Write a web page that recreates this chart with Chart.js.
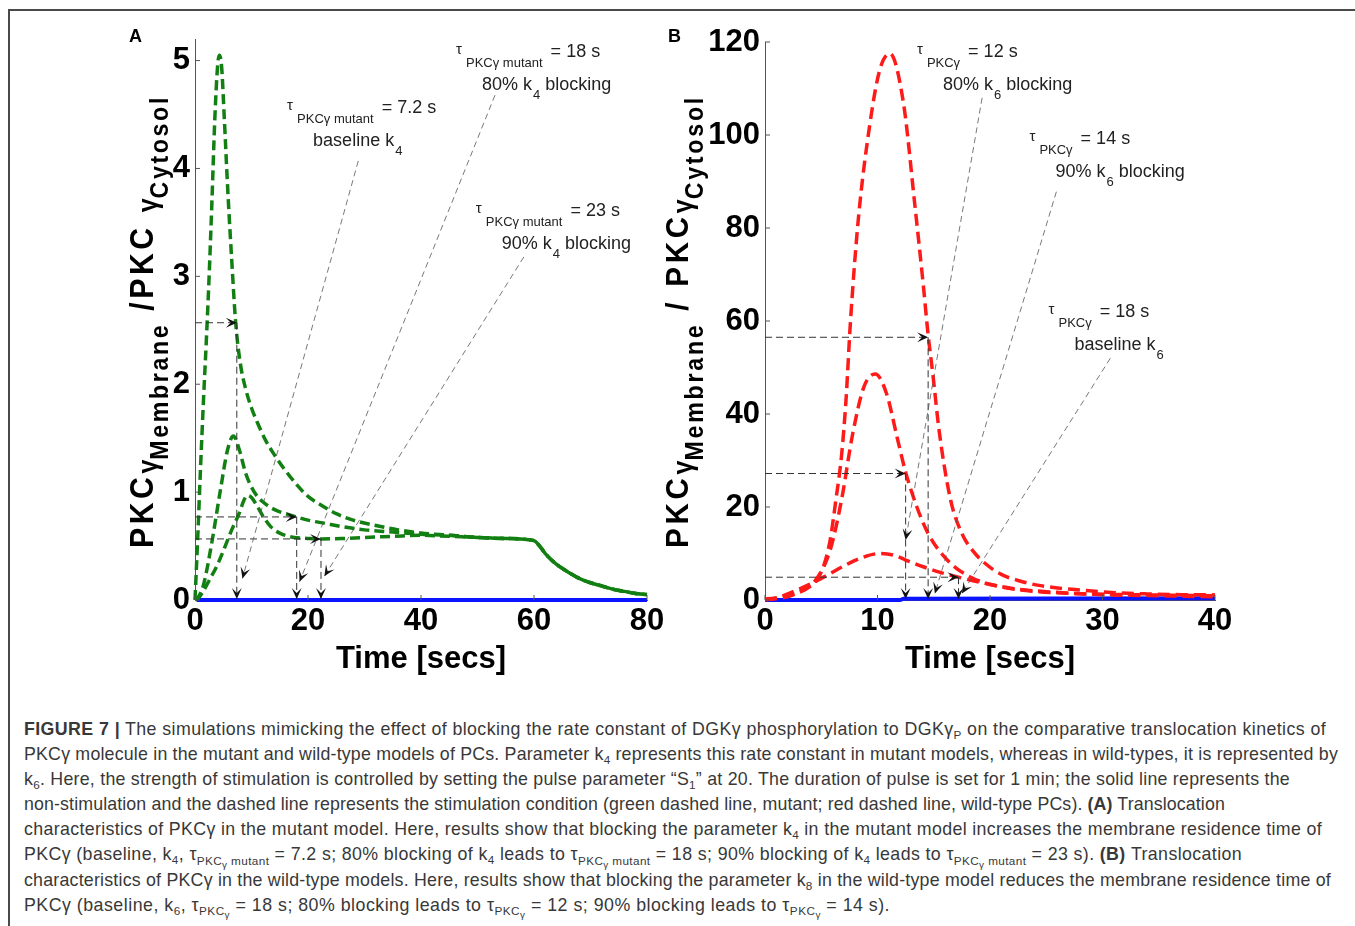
<!DOCTYPE html>
<html>
<head>
<meta charset="utf-8">
<script src="https://cdn.jsdelivr.net/npm/chart.js@4.4.9/dist/chart.umd.min.js"></script>
<style>
body { margin: 0; background: #fff; width: 1355px; height: 926px; overflow: hidden; position: relative; font-family: "Liberation Sans", Arial, sans-serif; }
#frame { position: absolute; left: 8px; top: 9px; width: 1400px; height: 1000px; border-top: 2px solid #4a4a4a; border-left: 2px solid #4a4a4a; }
canvas { position: absolute; top: 0; }
#chartA { left: 0; }
#chartB { left: 650px; }
.panel { position: absolute; font-weight: bold; font-size: 18px; color: #000; }
#caption { position: absolute; left: 24px; top: 717px; font-size: 17.8px; line-height: 25.1px; color: #383838; }
#caption div { white-space: nowrap; }
sub { font-size: 66%; vertical-align: -0.35em; line-height: 0; }
sub sub { font-size: 85%; }
</style>
</head>
<body>
<div id="frame"></div>
<canvas id="chartA" width="680" height="700"></canvas>
<canvas id="chartB" width="705" height="700"></canvas>
<div class="panel" style="left:129px;top:26px">A</div>
<div class="panel" style="left:668px;top:26px">B</div>
<div id="caption">
<div data-end="1326"><b>FIGURE 7 |</b> The simulations mimicking the effect of blocking the rate constant of DGKγ phosphorylation to DGKγ<sub>P</sub> on the comparative translocation kinetics of</div>
<div data-end="1338">PKCγ molecule in the mutant and wild-type models of PCs. Parameter k<sub>4</sub> represents this rate constant in mutant models, whereas in wild-types, it is represented by</div>
<div data-end="1290">k<sub>6</sub>. Here, the strength of stimulation is controlled by setting the pulse parameter “S<sub>1</sub>” at 20. The duration of pulse is set for 1 min; the solid line represents the</div>
<div data-end="1225">non-stimulation and the dashed line represents the stimulation condition (green dashed line, mutant; red dashed line, wild-type PCs). <b>(A)</b> Translocation</div>
<div data-end="1322">characteristics of PKCγ in the mutant model. Here, results show that blocking the parameter k<sub>4</sub> in the mutant model increases the membrane residence time of</div>
<div data-end="1242">PKCγ (baseline, k<sub>4</sub>, τ<sub>PKC<sub>γ</sub> mutant</sub> = 7.2 s; 80% blocking of k<sub>4</sub> leads to τ<sub>PKC<sub>γ</sub> mutant</sub> = 18 s; 90% blocking of k<sub>4</sub> leads to τ<sub>PKC<sub>γ</sub> mutant</sub> = 23 s). <b>(B)</b> Translocation</div>
<div data-end="1331">characteristics of PKCγ in the wild-type models. Here, results show that blocking the parameter k<sub>8</sub> in the wild-type model reduces the membrane residence time of</div>
<div data-end="890">PKCγ (baseline, k<sub>6</sub>, τ<sub>PKC<sub>γ</sub></sub> = 18 s; 80% blocking leads to τ<sub>PKC<sub>γ</sub></sub> = 12 s; 90% blocking leads to τ<sub>PKC<sub>γ</sub></sub> = 14 s).</div>
</div>
<script>
// ---- panel A (mutant), green dashed ----
const xTicksA = [0, 20, 40, 60, 80];
const yTicksA = [0, 1, 2, 3, 4, 5];

const tailT = [61, 62, 64, 66, 68, 70, 72, 74, 76, 78, 80];
const tailV = [0.5, 0.43, 0.33, 0.26, 0.2, 0.16, 0.13, 0.1, 0.08, 0.06, 0.05];

const tA1 = [0, 0.5, 1, 1.5, 2, 2.5, 3, 3.5, 4, 4.3, 4.7, 5.2, 5.8, 6.5, 7.2, 8, 9, 10, 11, 12.5, 14, 16, 18, 20, 22, 25, 28, 32, 36, 40, 45, 50, 55, 60];
const vA1 = [0, 0.6, 1.25, 1.85, 2.4, 3.0, 3.7, 4.45, 4.95, 5.05, 4.95, 4.45, 3.8, 3.15, 2.57, 2.2, 1.95, 1.78, 1.65, 1.48, 1.35, 1.2, 1.07, 0.96, 0.89, 0.8, 0.74, 0.69, 0.65, 0.62, 0.6, 0.58, 0.57, 0.55];

const tA2 = [0, 0.5, 1.5, 3, 4.5, 5.8, 6.8, 7.8, 9, 10.5, 12, 14, 16, 18, 20, 23, 26, 30, 35, 40, 45, 50, 55, 60];
const vA2 = [0, 0.02, 0.14, 0.54, 1.02, 1.4, 1.52, 1.4, 1.17, 1.0, 0.91, 0.84, 0.8, 0.77, 0.74, 0.71, 0.68, 0.65, 0.63, 0.61, 0.6, 0.58, 0.57, 0.55];

const tA3 = [0, 0.8, 2.7, 4, 5.2, 6.5, 7.8, 8.7, 9.3, 10, 10.9, 12, 13.4, 15, 16.6, 18.5, 20.4, 22.5, 26, 30, 35, 40, 45, 50, 55, 60];
const vA3 = [0, 0.03, 0.2, 0.33, 0.48, 0.65, 0.8, 0.93, 0.97, 0.95, 0.88, 0.78, 0.68, 0.62, 0.59, 0.575, 0.57, 0.566, 0.57, 0.58, 0.59, 0.6, 0.59, 0.58, 0.57, 0.55];

const tABlue = [0.3, 80];
const vABlue = [0, 0];

// residence-time markers (tau, level) and label texts, panel A
const tauA = [7.4, 18, 22.3];
const levelA = [2.57, 0.77, 0.566];
const labelSubA = ['PKCγ mutant', 'PKCγ mutant', 'PKCγ mutant'];
const labelValA = ['= 7.2 s', '= 18 s', '= 23 s'];
const labelLine2A = [['baseline k', '4', ''], ['80% k', '4', ' blocking'], ['90% k', '4', ' blocking']];

// ---- panel B (wild type), red dashed ----
const xTicksB = [0, 10, 20, 30, 40];
const yTicksB = [0, 20, 40, 60, 80, 100, 120];

const tB1 = [0, 0.8, 2, 3.5, 4.5, 5.2, 5.8, 6.3, 6.8, 7.2, 7.6, 8.3, 9.3, 10.2, 11.1, 12.3, 13.3, 14.1, 14.5, 14.9, 15.5, 16.5, 17.5, 18.5, 19.5, 21, 22.5, 24.2, 26, 28, 30.8, 34, 37, 40];
const vB1 = [0.2, 0.4, 1, 2.2, 4, 7.2, 13, 21.5, 31, 43, 60, 82, 102, 114, 117.5, 107, 85.4, 67, 57, 49, 36, 21.5, 14.3, 10.5, 8, 5.5, 4.2, 3.2, 2.6, 2.15, 1.6, 1.3, 1.15, 1.1];

const tB2 = [0, 0.5, 2.5, 4.5, 5.8, 6.8, 7.8, 8.8, 9.8, 10.8, 11.8, 12.5, 13.5, 14.5, 16.2, 18.2, 20.8, 24.2, 27.5, 30.8, 35, 40];
const vB2 = [0.1, 0.15, 1.1, 4.3, 10.8, 21.5, 35.8, 45.9, 48.6, 44.4, 34.4, 27.5, 20, 14.3, 8.6, 5, 2.9, 1.8, 1.4, 1.1, 0.9, 0.7];

const tB3 = [0, 1, 2.5, 4, 5.5, 7, 8.5, 10.2, 11.5, 12.5, 14, 15.5, 17.2, 19.5, 22.5, 25, 27.5, 31, 34.2, 37, 40];
const vB3 = [0.1, 0.4, 1.8, 3.4, 5.3, 7.3, 9, 10, 9.6, 8.6, 7.2, 6, 4.9, 3.6, 2.3, 1.8, 1.4, 1.2, 1.1, 1.0, 0.9];

const tBBlue = [0, 12, 12.3, 40];
const vBBlue = [0, 0, 0.25, 0.35];

const tauB = [14.5, 12.5, 17.2];
const levelB = [56.5, 27.2, 4.9];
const labelSubB = ['PKCγ', 'PKCγ', 'PKCγ'];
const labelValB = ['= 12 s', '= 14 s', '= 18 s'];
const labelLine2B = [['80% k', '6', ' blocking'], ['90% k', '6', ' blocking'], ['baseline k', '6', '']];

const FONT = '"Liberation Sans", Arial, sans-serif';

const toXY = (ts, vs) => ts.map((t, i) => ({ x: t, y: vs[i] }));

const arrowHead = (ctx, x1, y1, x2, y2, size) => {
    const a = Math.atan2(y2 - y1, x2 - x1);
    ctx.save();
    ctx.translate(x2, y2);
    ctx.rotate(a);
    ctx.setLineDash([]);
    ctx.beginPath();
    ctx.moveTo(0, 0);
    ctx.lineTo(-size, -size * 0.45);
    ctx.lineTo(-size * 0.55, 0);
    ctx.lineTo(-size, size * 0.45);
    ctx.closePath();
    ctx.fill();
    ctx.restore();
};

const dashedLine = (ctx, x1, y1, x2, y2, color, width, dash) => {
    ctx.save();
    ctx.strokeStyle = color;
    ctx.lineWidth = width;
    ctx.setLineDash(dash);
    ctx.beginPath();
    ctx.moveTo(x1, y1);
    ctx.lineTo(x2, y2);
    ctx.stroke();
    ctx.restore();
};

const drawTauLabel = (ctx, x, y, sub, val, line2) => {
    ctx.save();
    ctx.fillStyle = '#222';
    ctx.textBaseline = 'alphabetic';
    ctx.font = '15px ' + FONT;
    ctx.fillText('τ', x, y - 3);
    ctx.font = '13px ' + FONT;
    ctx.fillText(sub, x + 10, y + 10);
    const w = ctx.measureText(sub).width;
    ctx.font = '18px ' + FONT;
    ctx.fillText(val, x + 10 + w + 8, y);
    let cx = x + 26;
    ctx.fillText(line2[0], cx, y + 33);
    cx += ctx.measureText(line2[0]).width + 1;
    ctx.font = '13px ' + FONT;
    ctx.fillText(line2[1], cx, y + 42);
    cx += ctx.measureText(line2[1]).width;
    ctx.font = '18px ' + FONT;
    ctx.fillText(line2[2], cx, y + 33);
    ctx.restore();
};

const drawYTitle = (ctx, cx, yBottom, yTop, segs) => {
    ctx.save();
    ctx.fillStyle = '#000';
    let total = 0;
    segs.forEach(s => {
        ctx.font = 'bold ' + s.size + 'px ' + FONT;
        ctx.letterSpacing = s.ls + 'px';
        s.w = ctx.measureText(s.text).width;
        total += s.w;
    });
    ctx.translate(cx, yBottom);
    ctx.rotate(-Math.PI / 2);
    ctx.scale((yBottom - yTop) / total, 1);
    let x = 0;
    segs.forEach(s => {
        ctx.font = 'bold ' + s.size + 'px ' + FONT;
        ctx.letterSpacing = s.ls + 'px';
        ctx.fillText(s.text, x, s.dy);
        x += s.w;
    });
    ctx.restore();
};

// overlay: inward ticks, reference arrows, leader lines, labels, y title
const makeOverlay = (o) => ({
    id: 'overlay' + o.name,
    afterDatasetsDraw(chart) {
        const ctx = chart.ctx;
        const xs = chart.scales.x, ys = chart.scales.y;
        const X = v => xs.getPixelForValue(v), Y = v => ys.getPixelForValue(v);
        const area = chart.chartArea;

        ctx.save();
        ctx.strokeStyle = '#555';
        ctx.lineWidth = 1;
        ys.ticks.forEach(t => {
            ctx.beginPath(); ctx.moveTo(area.left, Y(t.value)); ctx.lineTo(area.left + 5, Y(t.value)); ctx.stroke();
        });
        xs.ticks.forEach(t => {
            ctx.beginPath(); ctx.moveTo(X(t.value), area.bottom); ctx.lineTo(X(t.value), area.bottom - 5); ctx.stroke();
        });
        ctx.restore();

        ctx.save();
        ctx.fillStyle = '#111';
        o.tau.forEach((tau, i) => {
            const lv = o.level[i];
            dashedLine(ctx, X(0), Y(lv), X(tau), Y(lv), '#333', 1, [7, 4]);
            arrowHead(ctx, X(0), Y(lv), X(tau), Y(lv), 11);
            dashedLine(ctx, X(tau), Y(lv), X(tau), Y(0) - 1, '#333', 1, [7, 4]);
            arrowHead(ctx, X(tau), Y(lv), X(tau), Y(0) - 1, 11);
        });
        o.leaders.forEach(l => {
            dashedLine(ctx, X(l[0]), Y(l[1]), X(l[2]), Y(l[3]), '#555', 0.8, [6, 4]);
            arrowHead(ctx, X(l[0]), Y(l[1]), X(l[2]), Y(l[3]), 11);
        });
        ctx.restore();

        o.labels.forEach((p, i) => drawTauLabel(ctx, X(p[0]), Y(p[1]), o.sub[i], o.val[i], o.line2[i]));
        drawYTitle(ctx, o.titleX, 548, 95, o.title);
    }
});

const lineSet = (ts, vs, color, dash, width) => ({
    data: toXY(ts, vs),
    showLine: true,
    borderColor: color,
    borderWidth: width,
    borderDash: dash,
    pointRadius: 0,
    cubicInterpolationMode: 'monotone',
    clip: false
});

const axisFont = { family: FONT, size: 31, weight: 'bold' };

const makeChart = (id, datasets, xmax, xTicks, ymax, yTicks, pad, yWidth, overlay) => new Chart(document.getElementById(id), {
    type: 'scatter',
    data: { datasets },
    options: {
        responsive: false,
        animation: false,
        devicePixelRatio: 1,
        layout: { padding: pad },
        plugins: { legend: { display: false }, tooltip: { enabled: false } },
        scales: {
            x: {
                type: 'linear', min: 0, max: xmax,
                ticks: { color: '#000', font: axisFont, padding: 3, maxRotation: 0 },
                grid: { display: true, drawOnChartArea: false, drawTicks: false },
                border: { display: true, color: '#555', width: 1 },
                title: { display: true, text: 'Time [secs]', color: '#000', font: { family: FONT, size: 31, weight: 'bold' }, padding: { top: 22, bottom: 22 } },
                afterBuildTicks: s => { s.ticks = xTicks.map(v => ({ value: v })); },
                afterFit: s => { s.height = 100; }
            },
            y: {
                type: 'linear', min: 0, max: ymax,
                ticks: { color: '#000', font: axisFont, padding: 5 },
                grid: { display: true, drawOnChartArea: false, drawTicks: false },
                border: { display: true, color: '#555', width: 1 },
                afterBuildTicks: s => { s.ticks = yTicks.map(v => ({ value: v })); },
                afterFit: s => { s.width = yWidth; }
            }
        }
    },
    plugins: [makeOverlay(overlay)]
});

const green = '#127f12';
const red = '#ff1a1a';
const blue = '#0a14ff';

makeChart('chartA', [
    lineSet(tA1.concat(tailT), vA1.concat(tailV), green, [10, 5], 3.5),
    lineSet(tA2.concat(tailT), vA2.concat(tailV), green, [10, 5], 3.5),
    lineSet(tA3.concat(tailT), vA3.concat(tailV), green, [10, 5], 3.5),
    lineSet(tABlue, vABlue, blue, [], 4)
], 80, xTicksA, 5.2, yTicksA, { left: 150, right: 33, top: 39, bottom: 0 }, 45, {
    name: 'A',
    tau: tauA, level: levelA,
    leaders: [[28.9, 4.07, 8.4, 0.2], [53.1, 4.68, 18.5, 0.17], [58.2, 3.18, 22.9, 0.22]],
    labels: [[16.3, 4.51], [46.2, 5.03], [49.7, 3.56]],
    sub: labelSubA, val: labelValA, line2: labelLine2A,
    titleX: 141,
    title: [
        { text: 'PKC', size: 34, dy: 12, ls: 4 },
        { text: 'γ', size: 28, dy: 16, ls: 0 },
        { text: 'Membrane', size: 26, dy: 27, ls: 3 },
        { text: ' /PKC ', size: 34, dy: 12, ls: 4 },
        { text: 'γ', size: 28, dy: 16, ls: 0 },
        { text: 'Cytosol', size: 26, dy: 27, ls: 3 }
    ]
});

makeChart('chartB', [
    lineSet(tB1, vB1, red, [12, 6], 3.5),
    lineSet(tB2, vB2, red, [12, 6], 3.5),
    lineSet(tB3, vB3, red, [12, 6], 3.5),
    lineSet(tBBlue, vBBlue, blue, [], 4)
], 40, xTicksB, 120, yTicksB, { left: 60, right: 140, top: 42, bottom: 0 }, 55, {
    name: 'B',
    tau: tauB, level: levelB,
    leaders: [[19.3, 108, 12.5, 12.9], [25.9, 87.8, 15.1, 1.4], [30.7, 52, 17.5, 1.4]],
    labels: [[13.5, 116.8], [23.5, 98], [25.2, 60.9]],
    sub: labelSubB, val: labelValB, line2: labelLine2B,
    titleX: 27,
    title: [
        { text: 'PKC', size: 32, dy: 11, ls: 4 },
        { text: 'γ', size: 27, dy: 15, ls: 0 },
        { text: 'Membrane', size: 25, dy: 26, ls: 3 },
        { text: ' / PKC', size: 32, dy: 11, ls: 4 },
        { text: 'γ', size: 27, dy: 15, ls: 0 },
        { text: 'Cytosol', size: 25, dy: 26, ls: 3 }
    ]
});

// stretch each caption line to the width it has in the figure
document.querySelectorAll('#caption div').forEach(line => {
    const n = line.textContent.length;
    const target = +line.dataset.end - line.getBoundingClientRect().left;
    const span = document.createElement('span');
    span.innerHTML = line.innerHTML;
    line.innerHTML = '';
    line.appendChild(span);
    const cur = span.getBoundingClientRect().width;
    line.style.letterSpacing = ((target - cur) / n).toFixed(3) + 'px';
});
</script>
</body>
</html>
